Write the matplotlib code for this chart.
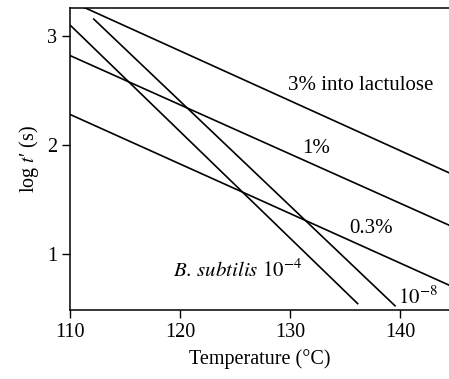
import numpy as np
import matplotlib
matplotlib.use("Agg")
import matplotlib.pyplot as plt

plt.rcParams["font.family"] = "Liberation Serif"
plt.rcParams["mathtext.fontset"] = "stix"

# temperature (C) / log t' endpoints of each straight line
lactulose_3 = ([110.0, 145.0], [3.32, 1.72])
lactulose_1 = ([110.0, 145.0], [2.82, 1.24])
lactulose_03 = ([110.0, 145.0], [2.28, 0.69])
subtilis_4 = ([110.0, 136.2], [3.10, 0.54])
subtilis_8 = ([112.1, 139.6], [3.16, 0.52])

x_ticks = [110, 120, 130, 140]
y_ticks = [1, 2, 3]

fig = plt.figure(figsize=(4.49, 3.79), dpi=100)
ax = fig.add_axes([0.156, 0.183, 0.844, 0.797])

for xs, ys in [lactulose_3, lactulose_1, lactulose_03, subtilis_4, subtilis_8]:
    ax.plot(xs, ys, color="black", lw=1.2, solid_capstyle="butt")

ax.set_xlim(110, 144.45)
ax.set_ylim(0.49, 3.26)
ax.set_xticks(x_ticks)
ax.set_yticks(y_ticks)
ax.tick_params(direction="out", length=6, width=1, labelsize=14.5, colors="black")
ax.spines["right"].set_visible(False)
for s in ["left", "bottom", "top"]:
    ax.spines[s].set_linewidth(1.1)

fs = 15
ax.text(129.8, 2.55, "3% into lactulose", fontsize=fs, va="center", ha="left")
ax.text(132.4, 1.97, "1%", fontsize=fs, va="center", ha="center")
ax.text(137.4, 1.23, "0.3%", fontsize=fs, va="center", ha="center")
ax.text(119.4, 0.85, r"$\mathit{B.\,subtilis}\ \mathrm{10^{-4}}$", fontsize=fs, va="center", ha="left")
ax.text(139.8, 0.60, r"$\mathrm{10^{-8}}$", fontsize=fs, va="center", ha="left")

ax.set_xlabel("Temperature (°C)", fontsize=14.5, labelpad=5)
ax.set_ylabel("log $t$\u2032 (s)", fontsize=14.5, labelpad=4)

fig.savefig("out.png", dpi=100)
